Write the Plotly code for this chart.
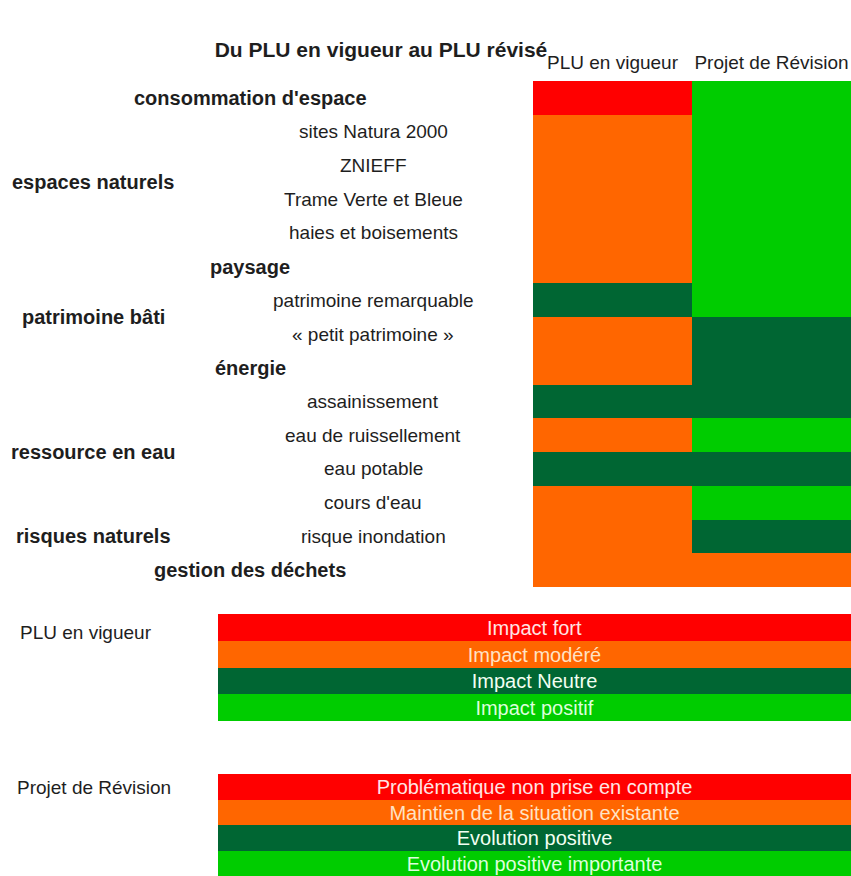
import plotly.graph_objects as go

# ---------------- data ----------------
rows = [
    "consommation d'espace", "sites Natura 2000", "ZNIEFF", "Trame Verte et Bleue",
    "haies et boisements", "paysage", "patrimoine remarquable", "« petit patrimoine »",
    "énergie", "assainissement", "eau de ruissellement", "eau potable", "cours d'eau",
    "risque inondation", "gestion des déchets",
]
# "" = top-level theme (bold), otherwise the group the sub-item belongs to
row_group = [
    "", "espaces naturels", "espaces naturels", "espaces naturels", "espaces naturels",
    "", "patrimoine bâti", "patrimoine bâti", "", "ressource en eau", "ressource en eau",
    "ressource en eau", "ressource en eau", "risques naturels", "",
]
columns = ["PLU en vigueur", "Projet de Révision"]
# 0 = red, 1 = orange, 2 = dark green, 3 = bright green
plu_en_vigueur = [0, 1, 1, 1, 1, 1, 2, 1, 1, 2, 1, 2, 1, 1, 1]
projet_revision = [3, 3, 3, 3, 3, 3, 3, 2, 2, 2, 3, 2, 3, 2, 1]

legend_plu = ["Impact fort", "Impact modéré", "Impact Neutre", "Impact positif"]
legend_rev = ["Problématique non prise en compte", "Maintien de la situation existante",
              "Evolution positive", "Evolution positive importante"]
legend_levels = [0, 1, 2, 3]

# ---------------- styles ----------------
W, H = 851, 876
palette = ["#ff0000", "#ff6600", "#006633", "#00cc00"]
text_tints = ["#ffe4e4", "#ffe2c4", "#f2fff2", "#dcffdc"]
FONT = "Liberation Sans, Arial, sans-serif"
DARK = "#1e1e1e"


def px(x):
    return x / W


def py(y):
    return 1 - y / H


colorscale = []
for i, c in enumerate(palette):
    colorscale.append([i / 4, c])
    colorscale.append([(i + 1) / 4, c])

z = [[a, b] for a, b in zip(plu_en_vigueur, projet_revision)]

fig = go.Figure()
fig.add_trace(go.Heatmap(
    z=z, x=columns, y=rows, zmin=-0.5, zmax=3.5, colorscale=colorscale,
    showscale=False, xaxis="x", yaxis="y", hoverinfo="skip",
))

for lab, axx, axy in [(legend_plu, "x2", "y2"), (legend_rev, "x3", "y3")]:
    fig.add_trace(go.Bar(
        x=[1] * len(lab), y=lab, orientation="h",
        marker=dict(color=[palette[l] for l in legend_levels], line=dict(width=0)),
        text=lab, textposition="inside", insidetextanchor="middle",
        constraintext="none",
        textfont=dict(family=FONT, size=20, color=[text_tints[l] for l in legend_levels]),
        xaxis=axx, yaxis=axy, hoverinfo="skip", showlegend=False,
    ))

annotations = []
# row labels
for i, (name, grp) in enumerate(zip(rows, row_group)):
    if grp == "":
        annotations.append(dict(text="<b>" + name + "</b>", x=px(250), xref="paper",
                                y=i, yref="y", xanchor="center", yanchor="middle",
                                showarrow=False, font=dict(family=FONT, size=20, color=DARK)))
    else:
        annotations.append(dict(text=name, x=px(373), xref="paper",
                                y=i, yref="y", xanchor="center", yanchor="middle",
                                showarrow=False, font=dict(family=FONT, size=19, color=DARK)))
# group labels
seen = []
for grp in row_group:
    if grp and grp not in seen:
        seen.append(grp)
for grp in seen:
    idx = [i for i, g in enumerate(row_group) if g == grp]
    annotations.append(dict(text="<b>" + grp + "</b>", x=px(93), xref="paper",
                            y=sum(idx) / len(idx), yref="y", xanchor="center", yanchor="middle",
                            showarrow=False, font=dict(family=FONT, size=20, color=DARK)))
# legend side labels
annotations.append(dict(text=columns[0], x=px(86), xref="paper", y=py(632), yref="paper",
                        xanchor="center", yanchor="middle", showarrow=False,
                        font=dict(family=FONT, size=19, color=DARK)))
annotations.append(dict(text=columns[1], x=px(94), xref="paper", y=py(787), yref="paper",
                        xanchor="center", yanchor="middle", showarrow=False,
                        font=dict(family=FONT, size=19, color=DARK)))

fig.update_layout(
    width=W, height=H, margin=dict(l=0, r=0, t=0, b=0),
    paper_bgcolor="white", plot_bgcolor="white", bargap=0,
    title=dict(text="<b>Du PLU en vigueur au PLU révisé</b>", x=px(381), xref="paper",
               xanchor="center", y=py(50), yref="paper", yanchor="middle",
               font=dict(family=FONT, size=21, color=DARK)),
    xaxis=dict(domain=[px(533), 1], side="top", showgrid=False, zeroline=False,
               ticks="outside", ticklen=3, tickcolor="rgba(0,0,0,0)",
               tickfont=dict(family=FONT, size=19, color=DARK), fixedrange=True),
    yaxis=dict(domain=[py(587), py(81)], autorange="reversed", showticklabels=False,
               showgrid=False, zeroline=False, fixedrange=True),
    xaxis2=dict(domain=[px(218), 1], range=[0, 1], visible=False, anchor="y2"),
    yaxis2=dict(domain=[py(721), py(614)], autorange="reversed", visible=False, anchor="x2"),
    xaxis3=dict(domain=[px(218), 1], range=[0, 1], visible=False, anchor="y3"),
    yaxis3=dict(domain=[0, py(774)], autorange="reversed", visible=False, anchor="x3"),
    annotations=annotations,
)

fig.write_html(
    "out.html",
    config={"displayModeBar": False},
    post_script="document.body.style.margin='0';document.body.style.overflow='hidden';",
)
